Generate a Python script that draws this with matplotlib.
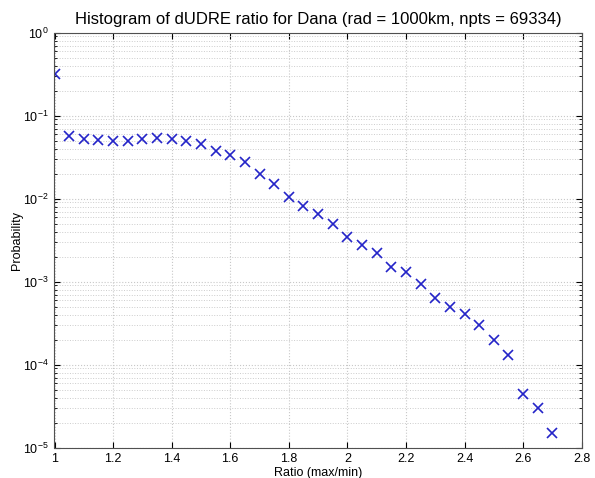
import matplotlib
matplotlib.use("Agg")
import matplotlib.pyplot as plt
from matplotlib.ticker import LogLocator, NullFormatter

plt.rcParams['font.family'] = ['Liberation Sans', 'DejaVu Sans']

ratio = [1.0, 1.05, 1.1, 1.15, 1.2, 1.25, 1.3, 1.35, 1.4, 1.45, 1.5, 1.55, 1.6,
         1.65, 1.7, 1.75, 1.8, 1.85, 1.9, 1.95, 2.0, 2.05, 2.1, 2.15, 2.2, 2.25,
         2.3, 2.35, 2.4, 2.45, 2.5, 2.55, 2.6, 2.65, 2.7]
probability = [0.32, 0.057, 0.053, 0.051, 0.049, 0.050, 0.053, 0.054, 0.053, 0.049,
               0.045, 0.038, 0.034, 0.028, 0.020, 0.015, 0.0106, 0.0081, 0.0065,
               0.0049, 0.0035, 0.0028, 0.0022, 0.0015, 0.0013, 0.00095, 0.00064,
               0.00050, 0.00041, 0.00030, 0.00020, 0.00013, 4.4e-5, 3.0e-5, 1.5e-5]
xticks = [1, 1.2, 1.4, 1.6, 1.8, 2, 2.2, 2.4, 2.6, 2.8]
xticklabels = ['1', '1.2', '1.4', '1.6', '1.8', '2', '2.2', '2.4', '2.6', '2.8']

fig = plt.figure(figsize=(5.95, 4.78), dpi=100)
ax = fig.add_axes([54.5/595, 1-447.7/478, (581.7-54.5)/595, (447.7-32.7)/478])
ax.semilogy(ratio, probability, linestyle='none', marker='x', color='#2424c8',
            markersize=7, markeredgewidth=1.2)
ax.set_xlim(1, 2.8)
ax.set_ylim(1e-5, 1)
ax.set_xticks(xticks)
ax.set_xticklabels(xticklabels)
ax.yaxis.set_major_locator(LogLocator(base=10, numticks=10))
ax.yaxis.set_minor_locator(LogLocator(base=10, subs=range(2, 10), numticks=20))
ax.yaxis.set_minor_formatter(NullFormatter())
ax.grid(True, which='major', axis='both', color='#c8c8c8', linestyle=':', linewidth=0.8)
ax.grid(True, which='minor', axis='y', color='#cccccc', linestyle=':', linewidth=0.7)
ax.tick_params(which='both', direction='in', top=True, right=True, labelsize=9, pad=4)
ax.tick_params(which='major', length=4)
ax.tick_params(which='minor', length=2)
for s in ax.spines.values():
    s.set_color('#505050')
    s.set_linewidth(0.8)
ax.set_title('Histogram of dUDRE ratio for Dana (rad = 1000km, npts = 69334)',
             fontsize=12, pad=6)
ax.set_xlabel('Ratio (max/min)', fontsize=9, labelpad=1)
ax.set_ylabel('Probability', fontsize=9, labelpad=0)
fig.savefig('out.png', dpi=100)
